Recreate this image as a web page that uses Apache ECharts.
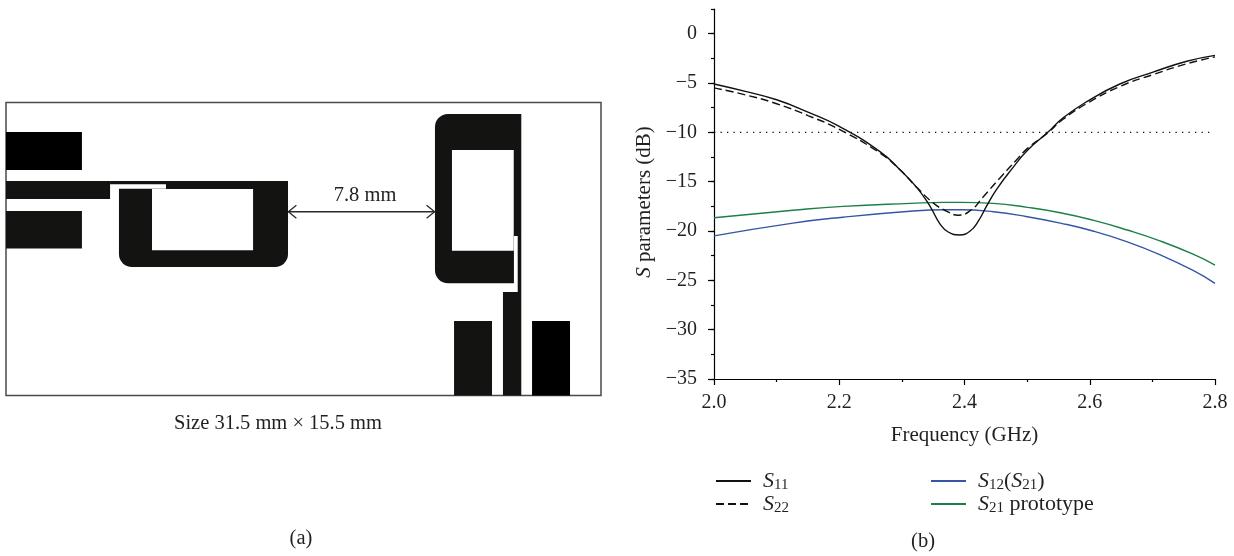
<!DOCTYPE html>
<html>
<head>
<meta charset="utf-8">
<style>html,body{margin:0;padding:0;background:#fff}#c{width:1234px;height:556px}</style>
<script src="https://cdn.jsdelivr.net/npm/echarts@6/dist/echarts.min.js"></script>
</head>
<body>
<div id="c"></div>
<script>
// ---- panel (b): S-parameter curves ----
const f11 = [2.0,2.05,2.1,2.15,2.2,2.265,2.297,2.324,2.345,2.361,2.374,2.392,2.409,2.422,2.435,2.451,2.477,2.501,2.533,2.557,2.596,2.648,2.701,2.755,2.8];
const s11 = [-5.1,-5.85,-6.7,-7.95,-9.4,-11.95,-13.8,-15.6,-17.5,-19.3,-20.1,-20.4,-20,-19,-17.5,-15.8,-13.6,-11.8,-10,-8.55,-6.86,-5.1,-3.9,-2.8,-2.2];
const f22 = [2.0,2.05,2.1,2.15,2.2,2.265,2.297,2.324,2.353,2.372,2.39,2.411,2.429,2.457,2.483,2.501,2.533,2.557,2.596,2.648,2.701,2.755,2.8];
const s22 = [-5.5,-6.2,-7.1,-8.3,-9.7,-12.1,-13.8,-15.6,-17.3,-18,-18.4,-17.85,-16.6,-14.6,-12.8,-11.6,-10.05,-8.7,-7.05,-5.35,-4.15,-3.05,-2.35];
const fTrans = [2.0,2.126,2.206,2.313,2.366,2.393,2.446,2.5,2.553,2.605,2.66,2.712,2.765,2.8];
const s12 = [-20.5,-19.2,-18.6,-18,-17.85,-17.85,-18.05,-18.55,-19.2,-20,-21.1,-22.4,-24,-25.3];
const s21proto = [-18.66,-17.9,-17.5,-17.2,-17.1,-17.1,-17.2,-17.6,-18.15,-18.9,-19.9,-21,-22.35,-23.45];
const threshold = [[2.0,-10],[2.795,-10]];
const zip = (a,b) => a.map((v,i) => [v,b[i]]);

// ---- panel (a): antenna layout, rectangles [x0,y0,x1,y1] in mm ----
const boardSize = [31.5,15.5];
const padsDark = [[0,1.56,4.02,3.57],[27.85,11.56,29.86,15.5]];
const metal = [[0,4.15,5.51,5.11],[5.51,4.15,8.47,4.33],[8.47,4.15,14.93,4.58],
               [26.6,0.61,27.28,7.06],[27.09,7.06,27.28,10.03],[26.31,10.03,27.28,15.5],
               [0,5.74,4.02,7.73],[23.72,11.56,25.73,15.5]];
const roundedLeft = [5.98,4.56,14.93,8.70];
const roundedRight = [22.71,0.61,26.89,9.56];
const holes = [[7.73,4.58,13.08,7.82],[23.61,2.51,26.88,7.84]];
const gapArrow = [14.95,22.69,5.78];

const serif = '"Liberation Serif","Times New Roman",serif';
const ink = '#231f20';
const subRich = {
  i:{fontFamily:serif,fontStyle:'italic',fontSize:21,color:ink},
  n:{fontFamily:serif,fontSize:21,color:ink},
  s:{fontFamily:serif,fontSize:14,color:ink,padding:[9,0,0,0]}
};
const legendRich = {
  i:{fontFamily:serif,fontStyle:'italic',fontSize:22,color:ink},
  n:{fontFamily:serif,fontSize:22,color:ink},
  s:{fontFamily:serif,fontSize:15,color:ink,padding:[9,0,0,0]}
};
const legendLabels = {
  'S11':'{i|S}{s|11}',
  'S22':'{i|S}{s|22}',
  'S12(S21)':'{i|S}{s|12}{n|(}{i|S}{s|21}{n|)}',
  'S21 prototype':'{i|S}{s|21}{n| prototype}'
};
const legendBase = {
  orient:'vertical',itemWidth:35,itemHeight:10,itemGap:0,padding:0,
  selectedMode:false,
  itemStyle:{color:'transparent',borderColor:'transparent',borderWidth:0},
  formatter:n => legendLabels[n],
  textStyle:{rich:legendRich,padding:[0,0,0,7]}
};

function rectRenderer(fill,corner){
  return function(params,api){
    const a = api.coord([api.value(0),api.value(1)]);
    const b = api.coord([api.value(2),api.value(3)]);
    const shape = {x:a[0],y:a[1],width:b[0]-a[0],height:b[1]-a[1]};
    if(corner) shape.r = corner;
    return {type:'rect',shape:shape,style:{fill:fill}};
  };
}
function panelSeries(data,fill,corner,z){
  return {type:'custom',xAxisIndex:1,yAxisIndex:2,z:z,silent:true,clip:false,
          encode:{x:[0,2],y:[1,3]},data:data,renderItem:rectRenderer(fill,corner),
          tooltip:{show:false}};
}
function arrowRenderer(params,api){
  const a = api.coord([api.value(0),api.value(2)]);
  const b = api.coord([api.value(1),api.value(2)]);
  const st = {stroke:'#2a2a2a',lineWidth:1.3,fill:null};
  return {type:'group',children:[
    {type:'line',shape:{x1:a[0],y1:a[1],x2:b[0],y2:b[1]},style:st},
    {type:'polyline',shape:{points:[[a[0]+8,a[1]-6.5],[a[0],a[1]],[a[0]+8,a[1]+6.5]]},style:st},
    {type:'polyline',shape:{points:[[b[0]-8,b[1]-6.5],[b[0],b[1]],[b[0]-8,b[1]+6.5]]},style:st}
  ]};
}
const captionText = (text,x,y) => ({type:'text',x:x,y:y,silent:true,
  style:{text:text,fill:ink,font:'20.5px '+serif,align:'center',verticalAlign:'middle'}});
const lineSmooth = {smooth:0.5,symbol:'none'};

const chart = echarts.init(document.getElementById('c'),null,{renderer:'canvas'});
chart.setOption({
  animation:false,
  backgroundColor:'#fff',
  grid:[
    {left:714,right:19,top:9,bottom:177},
    {left:6,top:102.5,width:595,height:293,show:true,borderColor:'#4a4a4a',borderWidth:1.5,backgroundColor:'#fff'}
  ],
  xAxis:[
    {type:'value',gridIndex:0,min:2,max:2.8,interval:0.2,
     name:'Frequency (GHz)',nameLocation:'middle',nameGap:46,
     nameTextStyle:{fontFamily:serif,fontSize:21,color:ink},
     axisLine:{lineStyle:{color:'#000',width:1.2},onZero:false},
     axisTick:{length:6,lineStyle:{color:'#000',width:1.2}},
     minorTick:{show:true,splitNumber:2,length:3,lineStyle:{color:'#000',width:1.2}},
     splitLine:{show:false},minorSplitLine:{show:false},
     axisLabel:{fontFamily:serif,fontSize:20,color:ink,margin:14,showMaxLabel:true,formatter:v=>v.toFixed(1)}},
    {type:'value',gridIndex:1,min:0,max:boardSize[0],show:false}
  ],
  yAxis:[
    {type:'value',gridIndex:0,min:-35,max:2.5,interval:5,
     name:'{i|S}{n| parameters (dB)}',nameLocation:'middle',nameGap:59,
     nameTextStyle:{rich:subRich,padding:[0,16,0,0]},
     axisLine:{lineStyle:{color:'#000',width:1.2},onZero:false},
     axisTick:{length:6,customValues:[-35,-30,-25,-20,-15,-10,-5,0],lineStyle:{color:'#000',width:1.2}},
     splitLine:{show:false},
     axisLabel:{fontFamily:serif,fontSize:20,color:ink,margin:17,
       customValues:[-35,-30,-25,-20,-15,-10,-5,0],
       formatter:v=>v<0?'\u2212'+(-v):String(v)}},
    {type:'value',gridIndex:0,min:-35,max:2.5,interval:2.5,position:'left',
     axisLine:{show:false},axisTick:{show:true,length:3,lineStyle:{color:'#000',width:1.2}},
     axisLabel:{show:false},splitLine:{show:false}},
    {type:'value',gridIndex:1,min:0,max:boardSize[1],inverse:true,show:false}
  ],
  legend:[
    Object.assign({},legendBase,{left:715,top:470,data:['S11','S22']}),
    Object.assign({},legendBase,{left:930,top:470,data:['S12(S21)','S21 prototype']})
  ],
  series:[
    Object.assign({name:'S21 prototype',type:'line',data:zip(fTrans,s21proto),lineStyle:{color:'#1b8046',width:1.4},itemStyle:{color:'#1b8046'},z:3},lineSmooth),
    Object.assign({name:'S12(S21)',type:'line',data:zip(fTrans,s12),lineStyle:{color:'#3655a5',width:1.4},itemStyle:{color:'#3655a5'},z:3},lineSmooth),
    Object.assign({name:'S22',type:'line',data:zip(f22,s22),lineStyle:{color:'#111',width:1.4,type:[8,4]},itemStyle:{color:'#111'},z:4},lineSmooth),
    Object.assign({name:'S11',type:'line',data:zip(f11,s11),lineStyle:{color:'#111',width:1.4},itemStyle:{color:'#111'},z:5},lineSmooth),
    {name:'-10 dB',type:'line',data:threshold,symbol:'none',lineStyle:{color:'#111',width:1.4,type:[1.3,5.2]},z:2},
    panelSeries(metal,'#131412',null,3),
    panelSeries(padsDark,'#000',null,3),
    panelSeries([roundedLeft],'#131412',[0,0,13,13],3),
    panelSeries([roundedRight],'#131412',[13,0,0,13],3),
    panelSeries(holes,'#fff',null,4),
    {type:'custom',xAxisIndex:1,yAxisIndex:2,z:5,silent:true,data:[gapArrow],encode:{x:[0,1],y:2},renderItem:arrowRenderer}
  ],
  graphic:[
    captionText('7.8 mm',365,196),
    captionText('Size 31.5 mm \u00d7 15.5 mm',278,424),
    captionText('(a)',301,539),
    captionText('(b)',923,542)
  ]
});
</script>
</body>
</html>
